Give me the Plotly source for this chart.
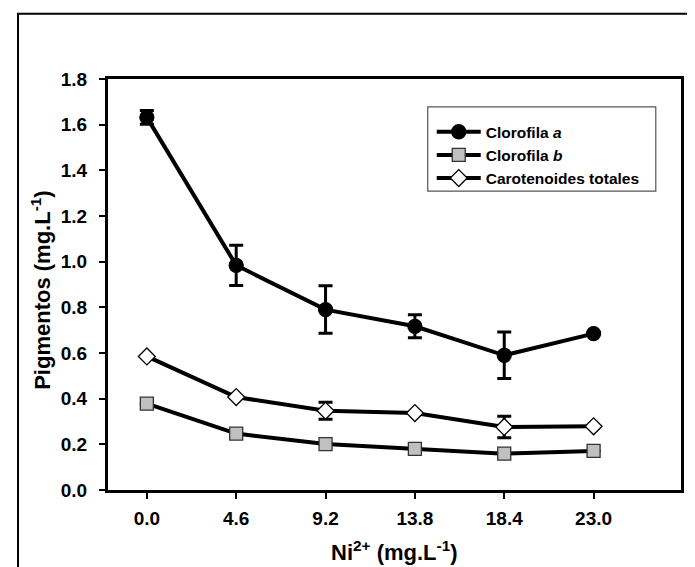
import plotly.graph_objects as go

# ---- data ----
ni_conc = [0.0, 4.6, 9.2, 13.8, 18.4, 23.0]
tick_labels = ["0.0", "4.6", "9.2", "13.8", "18.4", "23.0"]

clor_a = [1.632, 0.984, 0.790, 0.717, 0.590, 0.685]
clor_a_err = [0.030, 0.088, 0.104, 0.050, 0.102, 0.0]

clor_b = [0.378, 0.247, 0.201, 0.180, 0.159, 0.171]
clor_b_err = [0.0, 0.0, 0.0, 0.0, 0.0, 0.0]

carot = [0.585, 0.407, 0.347, 0.337, 0.276, 0.279]
carot_err = [0.0, 0.0, 0.037, 0.0, 0.047, 0.0]

y_ticks = [0.0, 0.2, 0.4, 0.6, 0.8, 1.0, 1.2, 1.4, 1.6, 1.8]
y_tick_labels = ["0.0", "0.2", "0.4", "0.6", "0.8", "1.0", "1.2", "1.4", "1.6", "1.8"]

FONT = "Liberation Sans, Arial, sans-serif"

fig = go.Figure()

def add_series(y, err, name, symbol, size, fill, mline):
    fig.add_trace(go.Scatter(
        x=ni_conc, y=y, name=name, mode="lines+markers",
        line=dict(color="black", width=4),
        marker=dict(symbol=symbol, size=size, color=fill,
                    line=dict(color=mline, width=1.3)),
        error_y=dict(type="data", array=err, visible=True,
                     color="black", thickness=3, width=7),
    ))

add_series(clor_a, clor_a_err, "Clorofila <i>a</i>", "circle", 14, "black", "black")
add_series(clor_b, clor_b_err, "Clorofila <i>b</i>", "square", 13, "#c0c0c0", "#333333")
add_series(carot, carot_err, "Carotenoides totales", "diamond", 13, "white", "black")

# outer frame (top and left edges visible; the rest runs off the canvas)
fig.add_shape(type="rect", xref="paper", yref="paper",
              x0=-0.157, x1=1.06, y0=-0.25, y1=1.159,
              line=dict(color="black", width=2), fillcolor="rgba(0,0,0,0)",
              layer="below")
# legend box
fig.add_shape(type="rect", xref="paper", yref="paper",
              x0=0.558, x1=0.956, y0=0.727, y1=0.932,
              line=dict(color="#555555", width=1.2), fillcolor="white")

# axis titles
fig.add_annotation(text="Pigmentos (mg.L<sup>-1</sup>)", xref="paper", yref="paper",
                   x=-0.117, y=0.487, xanchor="center", yanchor="middle",
                   textangle=-90, showarrow=False,
                   font=dict(family=FONT, size=22, color="black", weight="bold"))
fig.add_annotation(text="Ni<sup>2+</sup> (mg.L<sup>-1</sup>)", xref="paper", yref="paper",
                   x=0.5, y=-0.148, xanchor="center", yanchor="middle",
                   showarrow=False,
                   font=dict(family=FONT, size=22, color="black", weight="bold"))

fig.update_layout(
    width=695, height=567,
    margin=dict(l=100, r=22, t=71, b=85),
    paper_bgcolor="white", plot_bgcolor="white",
    font=dict(family=FONT, color="black", size=19),
    showlegend=True,
    legend=dict(x=0.565, y=0.912, xanchor="left", yanchor="top",
                bgcolor="rgba(0,0,0,0)", borderwidth=0,
                font=dict(family=FONT, size=15.5, color="black", weight="bold"),
                itemwidth=44, tracegroupgap=0),
    xaxis=dict(range=[-2, 27.5], tickvals=ni_conc, ticktext=tick_labels,
               showline=True, linecolor="black", linewidth=3, mirror=True,
               ticks="outside", ticklen=6, tickwidth=2, tickcolor="black",
               showgrid=False, zeroline=False, ticklabelstandoff=3,
               tickfont=dict(family=FONT, size=19, weight="bold")),
    yaxis=dict(range=[0, 1.8], tickvals=y_ticks, ticktext=y_tick_labels,
               showline=True, linecolor="black", linewidth=3, mirror=True,
               ticks="outside", ticklen=6, tickwidth=2, tickcolor="black",
               showgrid=False, zeroline=False, ticklabelstandoff=8,
               tickfont=dict(family=FONT, size=19, weight="bold")),
)

fig.write_html("out.html")
